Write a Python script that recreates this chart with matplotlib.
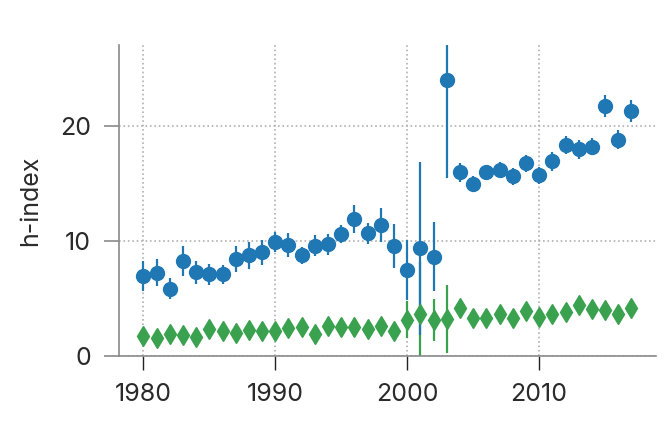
import numpy as np
import matplotlib.pyplot as plt

plt.rcParams['font.family'] = ['Inter', 'DejaVu Sans']

years = np.arange(1980, 2018)

# blue series: mean h-index and error
blue_mean = [7.0, 7.25, 5.85, 8.25, 7.3, 7.1, 7.1, 8.45, 8.75, 9.0,
             9.9, 9.65, 8.75, 9.6, 9.7, 10.6, 11.9, 10.65, 11.4, 9.55,
             7.45, 9.35, 8.65, 23.95, 15.95, 14.95, 15.95, 16.15, 15.6, 16.75,
             15.7, 16.9, 18.35, 17.95, 18.2, 21.7, 18.8, 21.25]
blue_err = [1.3, 1.2, 0.9, 1.3, 1.0, 0.9, 0.85, 1.1, 1.2, 1.1,
            0.9, 1.05, 0.75, 0.9, 0.9, 0.8, 1.2, 0.9, 1.5, 1.9,
            2.6, 7.5, 3.0, 8.45, 0.8, 0.65, 0.5, 0.7, 0.7, 0.75,
            0.75, 0.8, 0.8, 0.85, 0.75, 0.95, 0.85, 0.95]

# green series
green_mean = [1.75, 1.6, 1.95, 1.85, 1.7, 2.4, 2.2, 2.05, 2.25, 2.15,
              2.2, 2.45, 2.55, 1.95, 2.65, 2.55, 2.5, 2.4, 2.65, 2.15,
              3.15, 3.7, 3.15, 3.2, 4.15, 3.35, 3.35, 3.7, 3.3, 3.95,
              3.4, 3.7, 3.85, 4.45, 4.1, 4.0, 3.7, 4.15]
green_err = [0.4, 0.4, 0.4, 0.4, 0.4, 0.4, 0.4, 0.4, 0.4, 0.4,
             0.4, 0.4, 0.4, 0.4, 0.4, 0.4, 0.4, 0.4, 0.4, 0.4,
             1.6, 4.5, 1.85, 2.95, 0.5, 0.5, 0.5, 0.5, 0.5, 0.5,
             0.5, 0.5, 0.5, 0.5, 0.5, 0.5, 0.5, 0.5]

blue = '#1f77b4'
green = '#3aa14f'
spine_col = '#8a8a8a'
text_col = '#2a2a2a'

fig = plt.figure(figsize=(6.72, 4.22), dpi=100)
ax = fig.add_axes([0.177, 0.156, 0.799, 0.737])

# green first so the blue bars sit on top of it
ax.errorbar(years, green_mean, yerr=green_err, fmt='d', color=green,
            markersize=10, elinewidth=1.6, capsize=0)
ax.errorbar(years, blue_mean, yerr=blue_err, fmt='o', color=blue,
            markersize=10, elinewidth=1.6, capsize=0)

ax.set_ylim(0, 27)
ax.set_xlim(1978.15, 2018.85)
ax.set_xticks([1980, 1990, 2000, 2010])
ax.set_yticks([0, 10, 20])
ax.grid(True, linestyle=':', color='#b0b0b0', linewidth=1.2)
ax.set_axisbelow(True)

for s in ['top', 'right']:
    ax.spines[s].set_visible(False)
for s in ['left', 'bottom']:
    ax.spines[s].set_color(spine_col)
    ax.spines[s].set_linewidth(1.2)

ax.tick_params(axis='y', length=11, width=1.2, color=spine_col, pad=9,
               labelsize=18, labelcolor=text_col)
ax.tick_params(axis='x', length=10, width=1.0, color='#222222', pad=9,
               labelsize=18, labelcolor=text_col)
ax.set_ylabel('h-index', fontsize=18, color=text_col, labelpad=13)

fig.savefig('out.png', dpi=100)
